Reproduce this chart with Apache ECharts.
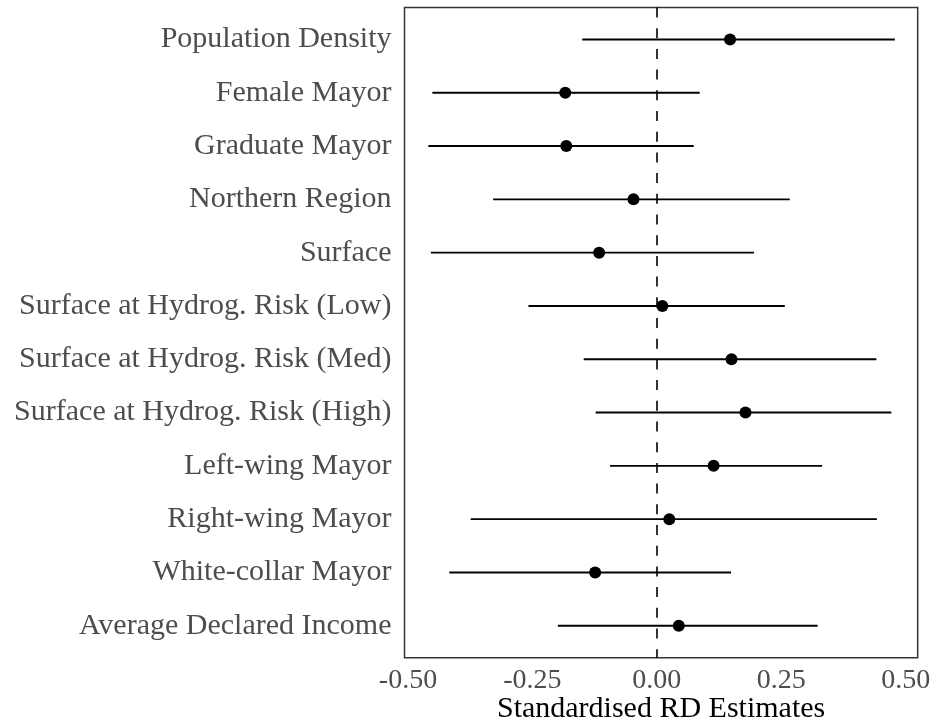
<!DOCTYPE html>
<html>
<head>
<meta charset="utf-8">
<script src="https://cdn.jsdelivr.net/npm/echarts@6/dist/echarts.min.js"></script>
<style>
html,body{margin:0;padding:0;background:#fff;}
#chart{width:936px;height:722px;}
</style>
</head>
<body>
<div id="chart"></div>
<script>
const categories = [
  "Population Density",
  "Female Mayor",
  "Graduate Mayor",
  "Northern Region",
  "Surface",
  "Surface at Hydrog. Risk (Low)",
  "Surface at Hydrog. Risk (Med)",
  "Surface at Hydrog. Risk (High)",
  "Left-wing Mayor",
  "Right-wing Mayor",
  "White-collar Mayor",
  "Average Declared Income"
];
const estimates = [0.147, -0.184, -0.182, -0.047, -0.116, 0.011, 0.150, 0.178, 0.114, 0.025, -0.124, 0.044];
const lowerCI   = [-0.150, -0.451, -0.459, -0.329, -0.454, -0.258, -0.147, -0.123, -0.094, -0.374, -0.417, -0.199];
const upperCI   = [0.478, 0.086, 0.074, 0.267, 0.195, 0.257, 0.441, 0.471, 0.332, 0.442, 0.149, 0.323];
const xTicks = [-0.5, -0.25, 0, 0.25, 0.5];

const FONT = '"Liberation Serif", "DejaVu Serif", serif';
const chart = echarts.init(document.getElementById('chart'), null, {renderer: 'canvas'});

const idx = categories.map((c, i) => i);
const option = {
  animation: false,
  backgroundColor: '#ffffff',
  grid: {
    left: 404.5, right: 18.3, top: 7.5, bottom: 64.3,
    outerBoundsMode: 'none',
    containLabel: false,
    show: true, borderColor: '#333333', borderWidth: 1.5, backgroundColor: 'transparent'
  },
  xAxis: {
    type: 'value',
    min: -0.507, max: 0.524,
    splitLine: {show: false},
    axisLine: {show: false},
    axisTick: {show: false},
    axisLabel: {
      customValues: xTicks,
      formatter: v => v.toFixed(2),
      fontFamily: FONT, fontSize: 28, color: '#4d4d4d', margin: 9
    },
    name: 'Standardised RD Estimates',
    nameLocation: 'middle',
    nameMoveOverlap: false,
    nameGap: 36,
    nameTextStyle: {fontFamily: FONT, fontSize: 30, color: '#000000', verticalAlign: 'top'}
  },
  yAxis: {
    type: 'value',
    inverse: true,
    min: -0.6, max: 11.6,
    splitLine: {show: false},
    axisLine: {show: false},
    axisTick: {show: false},
    axisLabel: {
      customValues: idx,
      formatter: v => categories[Math.round(v)] || '',
      fontFamily: FONT, fontSize: 30, color: '#4d4d4d', margin: 13
    }
  },
  series: [
    {
      type: 'custom',
      silent: true,
      data: idx.map(i => [lowerCI[i], upperCI[i], i]),
      encode: {x: [0, 1], y: 2},
      renderItem: function (params, api) {
        const p1 = api.coord([api.value(0), api.value(2)]);
        const p2 = api.coord([api.value(1), api.value(2)]);
        return {
          type: 'line',
          shape: {x1: p1[0], y1: p1[1], x2: p2[0], y2: p2[1]},
          style: {stroke: '#000000', lineWidth: 1.9}
        };
      },
      z: 3
    },
    {
      type: 'scatter',
      silent: true,
      data: idx.map(i => [estimates[i], i]),
      symbol: 'circle',
      symbolSize: 12,
      itemStyle: {color: '#000000', opacity: 1},
      z: 4,
      markLine: {
        silent: true,
        symbol: 'none',
        label: {show: false},
        lineStyle: {color: '#000000', width: 1.6, type: [10, 10.7], opacity: 1},
        data: [{xAxis: 0}]
      }
    }
  ]
};
chart.setOption(option);
</script>
</body>
</html>
